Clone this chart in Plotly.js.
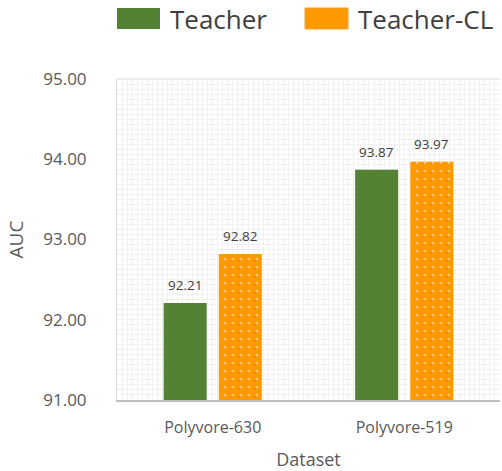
<!DOCTYPE html>
<html>
<head>
<meta charset="utf-8">
<script src="https://cdn.plot.ly/plotly-3.0.1.min.js"></script>
<style>
html,body{margin:0;padding:0;background:#fff;}
#chart{width:502px;height:471px;}
</style>
</head>
<body>
<div id="chart"></div>
<script>
const categories = ["Polyvore-630", "Polyvore-519"];
const seriesNames = ["Teacher", "Teacher-CL"];
const teacherValues = [92.21, 93.87];
const teacherCLValues = [92.82, 93.97];
const yTickValues = [91, 92, 93, 94, 95];
const yBase = 91;

const xPos = categories.map((c, i) => i);
const font = "'Open Sans', 'Noto Sans', sans-serif";
const textColor = "#595959";
const green = "#548235";
const orange = "#FF9900";
const bargap = 0.424;
const slot = (1 - bargap) / 2;

const traces = [
  {
    type: "bar", name: seriesNames[0], x: xPos, y: teacherValues.map(v => v - yBase),
    base: yBase,
    marker: {color: green},
    showlegend: false
  },
  {
    type: "bar", name: seriesNames[1], x: xPos, y: teacherCLValues.map(v => v - yBase),
    base: yBase,
    marker: {color: orange, pattern: {shape: ".", fgcolor: "#ffe0b0", bgcolor: orange, size: 8, solidity: 0.05, fillmode: "replace"}},
    showlegend: false
  }
];

const labelAnnotations = [];
[teacherValues, teacherCLValues].forEach((vals, s) => {
  vals.forEach((v, i) => {
    labelAnnotations.push({
      xref: "x", yref: "y", x: xPos[i] + (s === 0 ? -slot / 2 : slot / 2), y: v,
      text: v.toFixed(2), showarrow: false, xanchor: "center", yanchor: "bottom", yshift: 7,
      font: {family: font, size: 13.5, color: "#404040"}
    });
  });
});

const layout = {
  width: 502, height: 471,
  margin: {l: 117, r: 2, t: 79, b: 71},
  paper_bgcolor: "#ffffff", plot_bgcolor: "#ffffff",
  font: {family: font, color: textColor},
  barmode: "group", bargap: bargap, bargroupgap: 0.22,
  xaxis: {
    type: "linear", range: [-0.5, 1.5],
    tickvals: xPos, ticktext: categories,
    tickfont: {family: font, size: 16, color: textColor},
    showgrid: false, zeroline: false,
    showline: true, linecolor: "#bfbfbf", linewidth: 2,
    ticks: "", ticklabelstandoff: 12,
    minor: {dtick: 1/38, tick0: -0.5, showgrid: true, gridcolor: "#f1f1f1", gridwidth: 1, ticks: ""},
    title: {text: "Dataset", font: {family: font, size: 18, color: textColor}, standoff: 18}
  },
  yaxis: {
    range: [91, 95], tickvals: yTickValues, tickformat: ".2f",
    tickfont: {family: font, size: 17, color: textColor},
    showgrid: false, zeroline: false,
    showline: true, linecolor: "#d9d9d9", linewidth: 1, mirror: false,
    ticks: "", ticklabelstandoff: 26,
    minor: {dtick: 0.0625, tick0: 91, showgrid: true, gridcolor: "#f1f1f1", gridwidth: 1, ticks: ""},
    title: {text: "AUC", font: {family: font, size: 19, color: textColor}, standoff: 14}
  },
  shapes: [
    {type: "line", xref: "paper", yref: "paper", x0: 0, x1: 1, y0: 1, y1: 1, line: {color: "#d9d9d9", width: 1}},
    {type: "rect", xref: "paper", yref: "paper", x0: 0, x1: 43/383, y0: 1 + 50/321, y1: 1 + 71/321, fillcolor: green, line: {width: 0}},
    {type: "rect", xref: "paper", yref: "paper", x0: 188/383, x1: 231/383, y0: 1 + 50/321, y1: 1 + 71/321, fillcolor: orange, line: {color: "#f0a030", width: 1}}
  ],
  annotations: labelAnnotations.concat([
    {xref: "paper", yref: "paper", x: 51/383, y: 1 + 60.5/321, xanchor: "left", yanchor: "middle", text: seriesNames[0], showarrow: false, font: {family: font, size: 26, color: "#404040"}},
    {xref: "paper", yref: "paper", x: 239/383, y: 1 + 60.5/321, xanchor: "left", yanchor: "middle", text: seriesNames[1], showarrow: false, font: {family: font, size: 26, color: "#404040"}}
  ]),
  showlegend: false
};

Plotly.newPlot("chart", traces, layout, {displayModeBar: false, staticPlot: true});
</script>
</body>
</html>
